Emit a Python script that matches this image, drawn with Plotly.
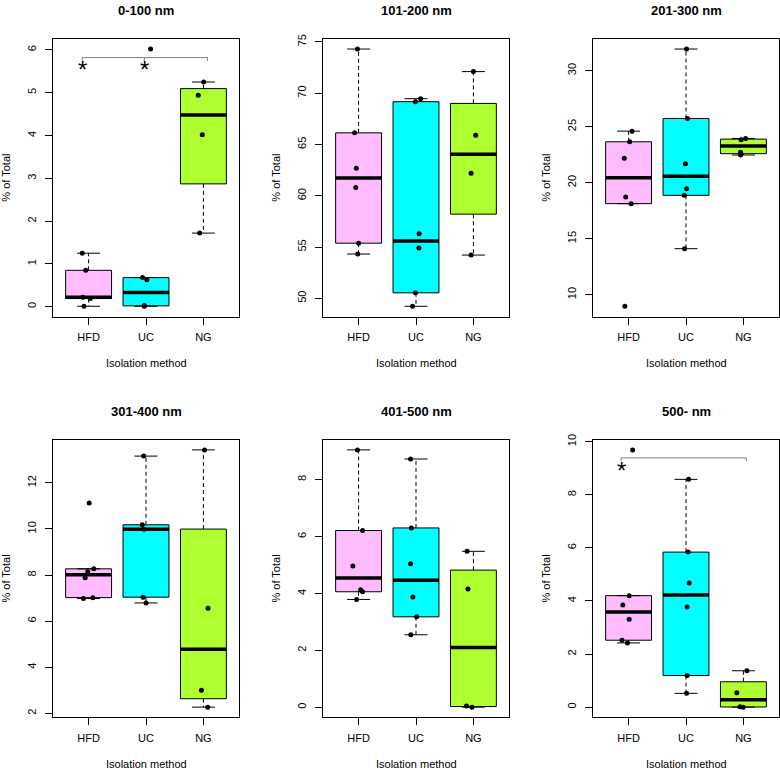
import plotly.graph_objects as go
import numpy as np

W, H = 780, 771

groups = ["HFD", "UC", "NG"]
fills = ["#FFBBFF", "#00FFFF", "#ADFF2F"]
titles = ["0-100 nm", "101-200 nm", "201-300 nm", "301-400 nm", "401-500 nm", "500- nm"]
y_dticks = [1, 5, 5, 2, 2, 2]

# ---- data: % of total per isolation method (HFD, UC, NG) ----
v_0_100 = [[1.25, 0.85, 0.22, 0.19, 0.01],
           [6.02, 0.68, 0.63, 0.03, 0.02, 0.01],
           [5.25, 4.94, 4.02, 1.72]]
v_101_200 = [[74.3, 66.13, 62.68, 60.8, 55.38, 54.32],
             [69.46, 69.17, 56.29, 54.9, 50.54, 49.23],
             [72.1, 65.9, 62.2, 54.22]]
v_201_300 = [[24.6, 23.65, 22.18, 18.72, 18.13, 8.97],
             [31.93, 25.73, 21.68, 19.46, 18.87, 14.11],
             [23.95, 23.83, 22.71, 22.47]]
v_301_400 = [[11.13, 8.27, 8.14, 7.88, 7.02, 6.98],
             [13.16, 10.18, 9.99, 7.04, 6.79],
             [13.43, 6.56, 3.0, 2.27]]
v_401_500 = [[9.04, 6.21, 4.96, 4.13, 4.06, 3.79],
             [8.72, 6.3, 5.04, 3.88, 3.18, 2.55],
             [5.48, 4.16, 0.05, 0.01]]
v_500 = [[9.69, 4.2, 3.85, 3.31, 2.52, 2.42],
         [8.58, 5.84, 4.68, 3.77, 1.19, 0.52],
         [1.37, 0.54, 0.01, 0.0]]

# horizontal jitter of the points (x offsets, category units)
j_0_100 = [[-0.11, -0.05, -0.10, 0.03, -0.08],
           [0.08, -0.06, 0.015, -0.03, -0.03, -0.03],
           [0.005, -0.09, -0.02, -0.065]]
j_101_200 = [[-0.02, -0.07, -0.04, -0.05, 0.0, -0.015],
             [0.08, -0.01, 0.055, 0.05, -0.01, -0.06],
             [0.0, 0.04, -0.04, -0.04]]
j_201_300 = [[0.06, 0.02, -0.075, -0.05, 0.045, -0.065],
             [0.01, 0.025, -0.01, 0.01, -0.03, -0.025],
             [0.04, -0.04, -0.05, -0.05]]
j_301_400 = [[0.01, 0.09, -0.015, -0.06, 0.075, -0.09],
             [-0.04, -0.065, -0.035, -0.05, 0.0],
             [0.02, 0.08, -0.035, 0.075]]
j_401_500 = [[-0.02, 0.07, -0.10, 0.035, 0.07, -0.035],
             [-0.095, -0.08, -0.095, -0.055, 0.01, -0.09],
             [-0.11, -0.095, -0.12, -0.025]]
j_500 = [[0.07, 0.01, -0.10, 0.01, -0.115, -0.02],
         [0.045, 0.035, 0.055, 0.02, 0.02, 0.01],
         [0.06, -0.115, -0.06, -0.005]]

panels = [v_0_100, v_101_200, v_201_300, v_301_400, v_401_500, v_500]
jitters = [j_0_100, j_101_200, j_201_300, j_301_400, j_401_500, j_500]

# significance brackets
sig_0_100 = dict(xl=0.89, xr=3.07, xm=[1.97], y=5.82, drop=0.08, stars_x=[0.89, 1.97], star_y=5.56)
sig_500 = dict(xl=0.87, xr=3.05, xm=[], y=9.39, drop=0.12, stars_x=[0.87], star_y=8.94)
sigs = {0: sig_0_100, 5: sig_500}

# ---- layout geometry (pixels) ----
col_px = [(53, 239), (323, 509), (593, 779)]
row_px = [(33, 313), (437, 717)]


def fivenum(v):
    x = sorted(v)
    n = len(x)
    n4 = np.floor((n + 3) / 2) / 2
    d = [1, n4, (n + 1) / 2, n + 1 - n4, n]
    return [0.5 * (x[int(np.floor(di)) - 1] + x[int(np.ceil(di)) - 1]) for di in d]


def box_stats(v):
    f = fivenum(v)
    iqr = f[3] - f[1]
    inside = [a for a in v if f[1] - 1.5 * iqr <= a <= f[3] + 1.5 * iqr]
    return min(inside), f[1], f[2], f[3], max(inside)


FONT = "Liberation Sans, Arial, sans-serif"
fig = go.Figure()
annotations = []
layout = {}

for p, (vals, jit) in enumerate(zip(panels, jitters)):
    r, c = divmod(p, 3)
    k = "" if p == 0 else str(p + 1)
    xa, ya = "x" + k, "y" + k
    x0, x1 = col_px[c]
    y0, y1 = row_px[r]
    allv = [a for g in vals for a in g]
    lo, hi = min(allv), max(allv)
    span = hi - lo
    yr = [lo - 0.04 * span, hi + 0.04 * span]

    layout["xaxis" + k] = dict(
        domain=[x0 / W, x1 / W], anchor=ya, range=[0.38, 3.62],
        tickvals=[1, 2, 3], ticktext=groups, ticks="outside", ticklen=7,
        tickcolor="black", showline=True, mirror=True, linecolor="black",
        linewidth=1, showgrid=False, zeroline=False, ticklabelstandoff=3,
        tickfont=dict(family=FONT, size=11, color="black"))
    layout["yaxis" + k] = dict(
        domain=[1 - y1 / H, 1 - y0 / H], anchor=xa, range=yr,
        tick0=0, dtick=y_dticks[p], ticks="outside", ticklen=7,
        tickcolor="black", showline=True, mirror=True, linecolor="black",
        linewidth=1, showgrid=False, zeroline=False, tickangle=-90,
        ticklabelstandoff=5,
        tickfont=dict(family=FONT, size=11, color="black"))

    for i, (g, col) in enumerate(zip(vals, fills)):
        xc = i + 1
        lw, q1, med, q3, uw = box_stats(g)
        fig.add_trace(go.Scatter(
            x=[xc, xc, None, xc, xc], y=[q3, uw, None, q1, lw], mode="lines",
            line=dict(color="black", width=1, dash="4px,3px"),
            xaxis=xa, yaxis=ya, hoverinfo="skip"))
        fig.add_trace(go.Scatter(
            x=[xc - 0.2, xc + 0.2, None, xc - 0.2, xc + 0.2],
            y=[uw, uw, None, lw, lw], mode="lines",
            line=dict(color="black", width=1),
            xaxis=xa, yaxis=ya, hoverinfo="skip"))
        fig.add_trace(go.Box(
            x=[xc], q1=[q1], median=[med], q3=[q3], lowerfence=[q1],
            upperfence=[q3], width=0.8, whiskerwidth=0, fillcolor=col,
            line=dict(color="black", width=1), boxpoints=False,
            name=groups[i], xaxis=xa, yaxis=ya))
        fig.add_trace(go.Scatter(
            x=[xc - 0.4, xc + 0.4], y=[med, med], mode="lines",
            line=dict(color="black", width=3.5),
            xaxis=xa, yaxis=ya, hoverinfo="skip"))
        fig.add_trace(go.Scatter(
            x=[xc + d for d in jit[i]], y=g, mode="markers",
            marker=dict(color="black", size=5),
            xaxis=xa, yaxis=ya, name=groups[i]))

    if p in sigs:
        s = sigs[p]
        bx = [s["xl"], s["xl"], s["xr"], s["xr"]]
        by = [s["y"] - s["drop"], s["y"], s["y"], s["y"] - s["drop"]]
        for m in s["xm"]:
            bx += [None, m, m]
            by += [None, s["y"], s["y"] - s["drop"]]
        fig.add_trace(go.Scatter(
            x=bx, y=by, mode="lines", line=dict(color="#808080", width=1),
            xaxis=xa, yaxis=ya, hoverinfo="skip"))
        for sx in s["stars_x"]:
            annotations.append(dict(
                x=sx, y=s["star_y"], xref=xa, yref=ya, text="*", showarrow=False,
                font=dict(family=FONT, size=24, color="black"),
                xanchor="center", yanchor="middle", yshift=-1))

    xm = (x0 + x1) / 2 / W
    annotations.append(dict(
        x=xm, y=1 - (y0 - 28) / H, xref="paper", yref="paper",
        text="<b>" + titles[p] + "</b>", showarrow=False,
        font=dict(family=FONT, size=13, color="black"),
        xanchor="center", yanchor="middle"))
    annotations.append(dict(
        x=xm, y=1 - (y1 + 47) / H, xref="paper", yref="paper",
        text="Isolation method", showarrow=False,
        font=dict(family=FONT, size=11, color="black"),
        xanchor="center", yanchor="middle"))
    annotations.append(dict(
        x=(x0 - 47) / W, y=1 - (y0 + y1) / 2 / H, xref="paper", yref="paper",
        text="% of Total", showarrow=False, textangle=-90,
        font=dict(family=FONT, size=11, color="black"),
        xanchor="center", yanchor="middle"))

fig.update_layout(
    width=W, height=H, margin=dict(l=0, r=0, t=0, b=0),
    plot_bgcolor="white", paper_bgcolor="white", showlegend=False,
    annotations=annotations, font=dict(family=FONT, size=11, color="black"),
    **layout)

fig.write_html("out.html", config={"displayModeBar": False},
               post_script="document.body.style.margin='0px';"
                           "document.body.style.overflow='hidden';")
